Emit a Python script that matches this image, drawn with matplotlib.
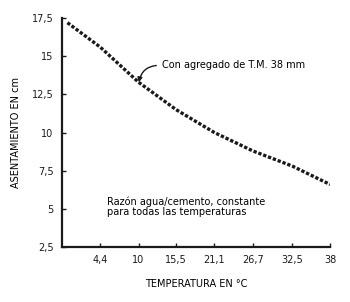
import matplotlib
matplotlib.use('Agg')
import matplotlib.pyplot as plt
from matplotlib import font_manager

# fuente estrecha si existe
names = {f.name for f in font_manager.fontManager.ttflist}
fam = [n for n in ['Liberation Sans Narrow', 'DejaVu Sans Condensed'] if n in names]
plt.rcParams['font.family'] = fam + ['DejaVu Sans']

temp = [-0.4, 4.4, 10, 15.5, 21.1, 26.7, 32.5, 38]
asentamiento = [17.2, 15.6, 13.3, 11.5, 10.0, 8.8, 7.8, 6.6]

xticks = [4.4, 10, 15.5, 21.1, 26.7, 32.5, 38]
xlabels = ['4,4', '10', '15,5', '21,1', '26,7', '32,5', '38']
yticks = [2.5, 5, 7.5, 10, 12.5, 15, 17.5]
ylabels = ['2,5', '5', '7,5', '10', '12,5', '15', '17,5']

fig = plt.figure(figsize=(3.5, 3.02), dpi=100)
ax = fig.add_axes([0.177, 0.182, 0.766, 0.758])

ax.plot(temp, asentamiento, color='#1a1a1a', lw=2.4, linestyle=(0, (1.0, 0.55)),
        solid_capstyle='butt', dash_capstyle='butt')

ax.set_xlim(-1.2, 38)
ax.set_ylim(2.5, 17.5)
ax.set_xticks(xticks)
ax.set_xticklabels(xlabels)
ax.set_yticks(yticks)
ax.set_yticklabels(ylabels)

for s in ['top', 'right']:
    ax.spines[s].set_visible(False)
for s in ['left', 'bottom']:
    ax.spines[s].set_linewidth(1.6)
    ax.spines[s].set_color('#1a1a1a')

ax.tick_params(direction='in', length=3, width=1, labelsize=7, colors='#1a1a1a', pad=6)

ax.set_xlabel('TEMPERATURA EN °C', fontsize=7, labelpad=10)
ax.set_ylabel('ASENTAMIENTO EN cm', fontsize=7, labelpad=8)

ax.annotate('Con agregado de T.M. 38 mm', xy=(10, 13.2), xytext=(13.4, 14.4),
            fontsize=7, va='center', ha='left',
            arrowprops=dict(arrowstyle='-|>', color='#1a1a1a', lw=1, relpos=(0, 0.5),
                            connectionstyle='arc3,rad=0.45', shrinkA=2, shrinkB=1,
                            mutation_scale=7))

ax.text(5.4, 5.15, 'Razón agua/cemento, constante\npara todas las temperaturas',
        fontsize=7, va='center', ha='left', linespacing=1.0)

plt.savefig('out.png', dpi=100)
